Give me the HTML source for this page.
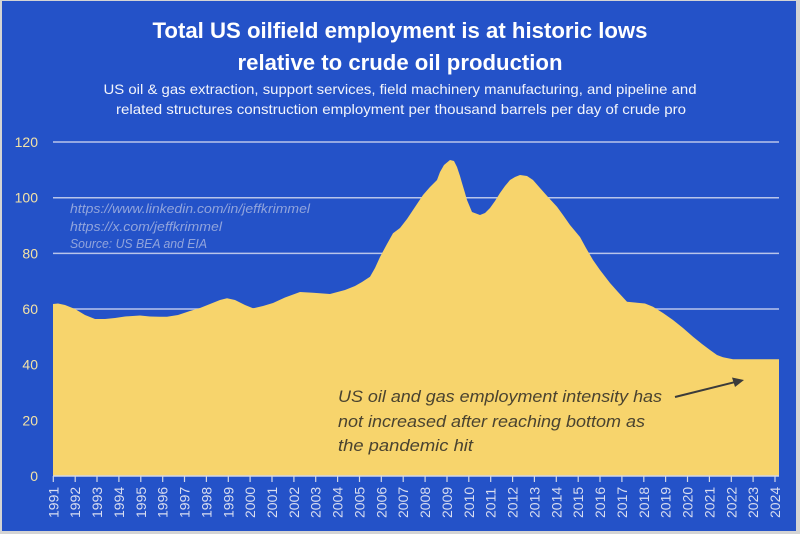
<!DOCTYPE html>
<html><head><meta charset="utf-8"><style>
html,body{margin:0;padding:0;background:#d4d4d4;}
svg{display:block;}
</style></head><body>
<svg width="800" height="534" viewBox="0 0 800 534" xmlns="http://www.w3.org/2000/svg" font-family="Liberation Sans, sans-serif">
<rect x="0" y="0" width="800" height="534" fill="#d4d4d4"/>
<rect x="2" y="1" width="794" height="530" fill="#2452c8"/>
<!-- titles -->
<text x="400" y="38" text-anchor="middle" fill="#ffffff" font-weight="bold" font-size="22" textLength="495" lengthAdjust="spacingAndGlyphs">Total US oilfield employment is at historic lows</text>
<text x="400" y="70" text-anchor="middle" fill="#ffffff" font-weight="bold" font-size="22" textLength="325" lengthAdjust="spacingAndGlyphs">relative to crude oil production</text>
<text x="400" y="94" text-anchor="middle" fill="#f2f4fb" font-size="14" textLength="593" lengthAdjust="spacingAndGlyphs">US oil &amp; gas extraction, support services, field machinery manufacturing, and pipeline and</text>
<text x="401" y="114" text-anchor="middle" fill="#f2f4fb" font-size="14" textLength="570" lengthAdjust="spacingAndGlyphs">related structures construction employment per thousand barrels per day of crude pro</text>
<!-- gridlines -->
<g stroke="#b9c5ea" stroke-width="1.5">
<line x1="53" y1="142" x2="779" y2="142"/>
<line x1="53" y1="197.7" x2="779" y2="197.7"/>
<line x1="53" y1="253.4" x2="779" y2="253.4"/>
<line x1="53" y1="309" x2="779" y2="309"/>
<line x1="53" y1="364.7" x2="779" y2="364.7"/>
<line x1="53" y1="420.4" x2="779" y2="420.4"/>
</g>
<!-- y labels -->
<g fill="#f3e2a6" font-size="14" text-anchor="end">
<text x="38" y="147">120</text>
<text x="38" y="202.7">100</text>
<text x="38" y="258.4">80</text>
<text x="38" y="314">60</text>
<text x="38" y="369.7">40</text>
<text x="38" y="425.4">20</text>
<text x="38" y="481">0</text>
</g>
<!-- watermark -->
<g fill="#91a4dc" font-size="12.5" font-style="italic">
<text x="70" y="213" textLength="240" lengthAdjust="spacingAndGlyphs">https://www.linkedin.com/in/jeffkrimmel</text>
<text x="70" y="231" textLength="152" lengthAdjust="spacingAndGlyphs">https://x.com/jeffkrimmel</text>
<text x="70" y="248" textLength="137" lengthAdjust="spacingAndGlyphs">Source: US BEA and EIA</text>
</g>
<!-- area -->
<path fill="#f7d46c" d="M53,476 L53,304 L58,303.5 L65,305 L75,309 L85,315 L95,319 L105,319 L115,318 L125,316.5 L140,315.5 L150,316.5 L160,316.7 L167,316.7 L178,315 L190,311 L200,308 L210,304 L220,300 L227,298.3 L235,300 L245,305 L253,308.3 L263,306 L273,303 L285,297.5 L300,292 L313,292.7 L330,294 L345,290 L355,286 L362,282 L370,276.7 L375,268 L380,257 L387,244 L393,233.3 L400,228 L407,219 L413,210 L423,195 L430,187 L437,180 L440,172 L444,165 L450,160 L454,161 L457,167 L460,176 L462,183 L465,193 L467,200 L472,212 L480,215 L485,213 L490,208 L495,201 L500,193 L505,186 L510,180 L515,177 L520,175 L527,176 L533,180 L540,188 L548,197 L557,206.7 L563,215 L570,225 L575,231 L580,237 L586,248 L593,260 L600,270 L610,283 L618,292 L627,301.7 L637,302.7 L645,303.5 L653,306.7 L663,313 L673,320 L683,328 L693,336.7 L702,344 L710,350 L717,355 L723,357.3 L733,359.3 L779,359.3 L779,476 Z"/>
<!-- axis -->
<line x1="53" y1="476" x2="779" y2="476" stroke="#d4d8e6" stroke-width="1.5"/>
<g stroke="#d4d8e6" stroke-width="1.2" id="ticks"></g>
<g stroke="#d4d8e6" stroke-width="1.2">
<line x1="53.3" y1="476" x2="53.3" y2="482"/><line x1="75.2" y1="476" x2="75.2" y2="482"/><line x1="97.0" y1="476" x2="97.0" y2="482"/><line x1="118.9" y1="476" x2="118.9" y2="482"/><line x1="140.8" y1="476" x2="140.8" y2="482"/><line x1="162.7" y1="476" x2="162.7" y2="482"/><line x1="184.5" y1="476" x2="184.5" y2="482"/><line x1="206.4" y1="476" x2="206.4" y2="482"/><line x1="228.3" y1="476" x2="228.3" y2="482"/><line x1="250.1" y1="476" x2="250.1" y2="482"/><line x1="272.0" y1="476" x2="272.0" y2="482"/><line x1="293.9" y1="476" x2="293.9" y2="482"/><line x1="315.7" y1="476" x2="315.7" y2="482"/><line x1="337.6" y1="476" x2="337.6" y2="482"/><line x1="359.5" y1="476" x2="359.5" y2="482"/><line x1="381.3" y1="476" x2="381.3" y2="482"/><line x1="403.2" y1="476" x2="403.2" y2="482"/><line x1="425.1" y1="476" x2="425.1" y2="482"/><line x1="447.0" y1="476" x2="447.0" y2="482"/><line x1="468.8" y1="476" x2="468.8" y2="482"/><line x1="490.7" y1="476" x2="490.7" y2="482"/><line x1="512.6" y1="476" x2="512.6" y2="482"/><line x1="534.4" y1="476" x2="534.4" y2="482"/><line x1="556.3" y1="476" x2="556.3" y2="482"/><line x1="578.2" y1="476" x2="578.2" y2="482"/><line x1="600.0" y1="476" x2="600.0" y2="482"/><line x1="621.9" y1="476" x2="621.9" y2="482"/><line x1="643.8" y1="476" x2="643.8" y2="482"/><line x1="665.6" y1="476" x2="665.6" y2="482"/><line x1="687.5" y1="476" x2="687.5" y2="482"/><line x1="709.4" y1="476" x2="709.4" y2="482"/><line x1="731.3" y1="476" x2="731.3" y2="482"/><line x1="753.1" y1="476" x2="753.1" y2="482"/><line x1="775.0" y1="476" x2="775.0" y2="482"/>
</g>
<!-- x labels -->
<g fill="#d8ddf0" font-size="14">
<text transform="translate(58.3,518) rotate(-90)">1991</text>
<text transform="translate(80.2,518) rotate(-90)">1992</text>
<text transform="translate(102.0,518) rotate(-90)">1993</text>
<text transform="translate(123.9,518) rotate(-90)">1994</text>
<text transform="translate(145.8,518) rotate(-90)">1995</text>
<text transform="translate(167.7,518) rotate(-90)">1996</text>
<text transform="translate(189.5,518) rotate(-90)">1997</text>
<text transform="translate(211.4,518) rotate(-90)">1998</text>
<text transform="translate(233.3,518) rotate(-90)">1999</text>
<text transform="translate(255.1,518) rotate(-90)">2000</text>
<text transform="translate(277.0,518) rotate(-90)">2001</text>
<text transform="translate(298.9,518) rotate(-90)">2002</text>
<text transform="translate(320.7,518) rotate(-90)">2003</text>
<text transform="translate(342.6,518) rotate(-90)">2004</text>
<text transform="translate(364.5,518) rotate(-90)">2005</text>
<text transform="translate(386.3,518) rotate(-90)">2006</text>
<text transform="translate(408.2,518) rotate(-90)">2007</text>
<text transform="translate(430.1,518) rotate(-90)">2008</text>
<text transform="translate(452.0,518) rotate(-90)">2009</text>
<text transform="translate(473.8,518) rotate(-90)">2010</text>
<text transform="translate(495.7,518) rotate(-90)">2011</text>
<text transform="translate(517.6,518) rotate(-90)">2012</text>
<text transform="translate(539.4,518) rotate(-90)">2013</text>
<text transform="translate(561.3,518) rotate(-90)">2014</text>
<text transform="translate(583.2,518) rotate(-90)">2015</text>
<text transform="translate(605.0,518) rotate(-90)">2016</text>
<text transform="translate(626.9,518) rotate(-90)">2017</text>
<text transform="translate(648.8,518) rotate(-90)">2018</text>
<text transform="translate(670.6,518) rotate(-90)">2019</text>
<text transform="translate(692.5,518) rotate(-90)">2020</text>
<text transform="translate(714.4,518) rotate(-90)">2021</text>
<text transform="translate(736.3,518) rotate(-90)">2022</text>
<text transform="translate(758.1,518) rotate(-90)">2023</text>
<text transform="translate(780.0,518) rotate(-90)">2024</text>
</g>
<!-- annotation -->
<g fill="#4a4330" font-size="17" font-style="italic">
<text x="338" y="402" textLength="324" lengthAdjust="spacingAndGlyphs">US oil and gas employment intensity has</text>
<text x="338" y="427" textLength="307" lengthAdjust="spacingAndGlyphs">not increased after reaching bottom as</text>
<text x="338" y="451" textLength="135" lengthAdjust="spacingAndGlyphs">the pandemic hit</text>
</g>
<line x1="675" y1="397" x2="734" y2="382.3" stroke="#3b3b3b" stroke-width="2"/>
<polygon points="744,380 732,377.5 735,387" fill="#3b3b3b"/>
</svg>
</body></html>
